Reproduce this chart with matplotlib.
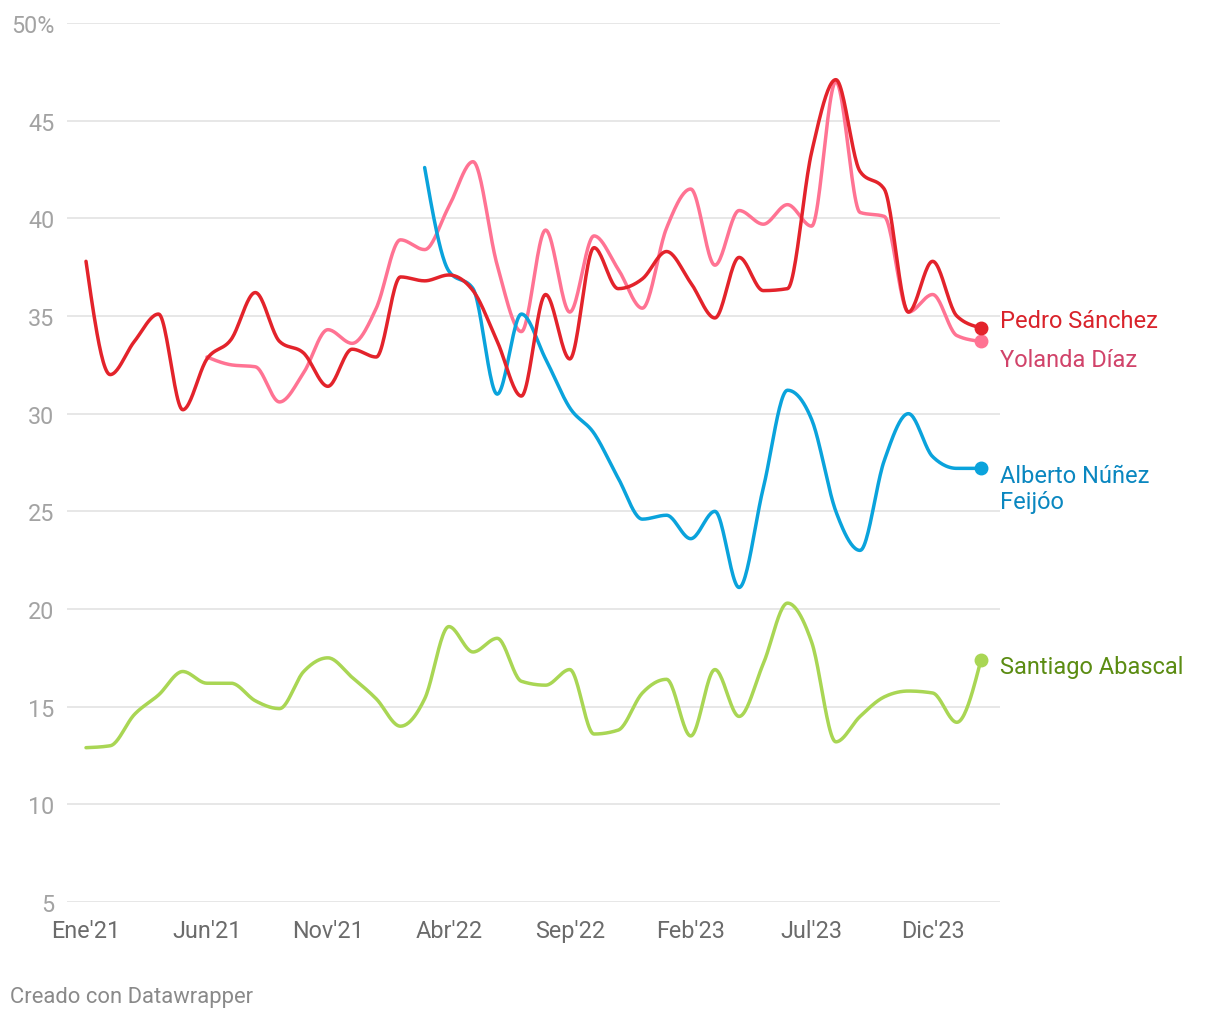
import numpy as np
import matplotlib
matplotlib.use("Agg")
import matplotlib.pyplot as plt

plt.rcParams['font.family'] = ['Roboto', 'DejaVu Sans']

# ---------------- data (monthly, Ene'21 .. Feb'24) ----------------
sanchez = [37.8, 32.0, 33.7, 35.1, 30.2, 32.8, 33.8, 36.2, 33.7, 33.1,
           31.4, 33.3, 32.9, 37.0, 36.8, 37.1, 36.3, 33.7, 30.9, 36.1,
           32.8, 38.5, 36.4, 36.9, 38.3, 36.7, 34.9, 38.0, 36.3, 36.4,
           43.4, 47.1, 42.4, 41.5, 35.2, 37.8, 35.0, 34.4]
diaz = [None, None, None, None, None, 32.9, 32.5, 32.4, 30.6, 32.1,
        34.3, 33.6, 35.4, 38.9, 38.4, 40.6, 42.9, 37.6, 34.2, 39.4,
        35.2, 39.1, 37.4, 35.4, 39.5, 41.5, 37.6, 40.4, 39.7, 40.7,
        39.6, 47.0, 40.3, 40.1, 35.2, 36.1, 34.0, 33.7]
feijoo = [None] * 14 + [42.6, 37.3, 36.4, 31.0, 35.1, 32.8, 30.3, 29.0, 26.7, 24.6,
                        24.8, 23.6, 25.0, 21.1, 26.2, 31.2, 29.7, 25.0, 23.0, 27.6,
                        30.0, 27.8, 27.2, 27.2]
abascal = [12.9, 13.0, 14.6, 15.6, 16.8, 16.2, 16.2, 15.3, 14.9, 16.8,
           17.5, 16.5, 15.4, 14.0, 15.4, 19.1, 17.8, 18.5, 16.3, 16.1,
           16.9, 13.6, 13.8, 15.7, 16.4, 13.5, 16.9, 14.5, 17.2, 20.3,
           18.3, 13.2, 14.5, 15.5, 15.8, 15.7, 14.2, 17.4]

names = ["Pedro Sánchez", "Yolanda Díaz", "Alberto Núñez\nFeijóo", "Santiago Abascal"]
xtick_pos = [0, 5, 10, 15, 20, 25, 30, 35]
xtick_labels = ["Ene'21", "Jun'21", "Nov'21", "Abr'22", "Sep'22", "Feb'23", "Jul'23", "Dic'23"]
ytick_vals = [5, 10, 15, 20, 25, 30, 35, 40, 45, 50]
ytick_labels = ["5", "10", "15", "20", "25", "30", "35", "40", "45", "50%"]


# ---------------- monotone-x curve (d3 style) for drawing ----------------
def monotone_curve(x, y, n=24):
    x = np.asarray(x, float)
    y = np.asarray(y, float)
    k = len(x)
    h = np.diff(x)
    s = np.diff(y) / h
    t = np.zeros(k)
    for i in range(1, k - 1):
        h0, h1 = h[i - 1], h[i]
        s0, s1 = s[i - 1], s[i]
        p = (s0 * h1 + s1 * h0) / (h0 + h1)
        t[i] = (np.sign(s0) + np.sign(s1)) * min(abs(s0), abs(s1), 0.5 * abs(p))
    if k > 2:
        t[0] = (3 * s[0] - t[1]) / 2
        t[-1] = (3 * s[-1] - t[-2]) / 2
    else:
        t[0] = t[-1] = s[0]
    xs, ys = [], []
    for i in range(k - 1):
        u = np.linspace(0, 1, n, endpoint=(i == k - 2))
        h00 = 2 * u**3 - 3 * u**2 + 1
        h10 = u**3 - 2 * u**2 + u
        h01 = -2 * u**3 + 3 * u**2
        h11 = u**3 - u**2
        xs.append(x[i] + u * h[i])
        ys.append(h00 * y[i] + h10 * h[i] * t[i] + h01 * y[i + 1] + h11 * h[i] * t[i + 1])
    return np.concatenate(xs), np.concatenate(ys)


series = [
    (abascal, names[3], "#a9d654", "#5b8c12", (19, -7), 1),
    (diaz, names[1], "#ff7393", "#d1436a", (19, -18), 2),
    (feijoo, names[2], "#0aa3dc", "#0a87c0", (19, -20), 3),
    (sanchez, names[0], "#e3232b", "#d9232b", (19, 7), 4),
]

fig = plt.figure(figsize=(12.2, 10.2), dpi=100)
ax = fig.add_axes([67 / 1220, 1 - 903 / 1020, (1000 - 67) / 1220, (903 - 24) / 1020])

for vals, name, lc, tc, off, z in series:
    idx = [i for i, v in enumerate(vals) if v is not None]
    yv = [vals[i] for i in idx]
    cx, cy = monotone_curve(idx, yv)
    ax.plot(cx, cy, color=lc, lw=2.5, solid_capstyle='round', solid_joinstyle='round', zorder=z + 2)
    ax.plot([idx[-1]], [yv[-1]], 'o', color=lc, ms=9, zorder=z + 2)
    ax.annotate(name, xy=(idx[-1], yv[-1]), xycoords='data',
                xytext=off, textcoords='offset pixels', ha='left', va='center',
                color=tc, fontsize=17, linespacing=1.17, annotation_clip=False)

px = 24.19
ax.set_xlim(-19 / px, 37 + 19 / px)
ax.set_ylim(5, 50)
ax.set_yticks(ytick_vals)
ax.set_yticklabels(ytick_labels)
ax.set_xticks(xtick_pos)
ax.set_xticklabels(xtick_labels)
ax.grid(axis='y', color='#e3e3e3', lw=1.2, zorder=0)
ax.grid(axis='x', visible=False)
for sp in ax.spines.values():
    sp.set_visible(False)
ax.tick_params(axis='y', length=0, pad=9, labelsize=16.8, labelcolor='#a3a3a3')
ax.tick_params(axis='x', length=0, pad=12.5, labelsize=16.8, labelcolor='#6b6b6b')
ax.set_axisbelow(True)

fig.text(10 / 1220, 1 - 998 / 1020, "Creado con Datawrapper", ha='left', va='center',
         fontsize=15.8, color='#8a8a8a')

fig.savefig("out.png", dpi=100, facecolor='white')
